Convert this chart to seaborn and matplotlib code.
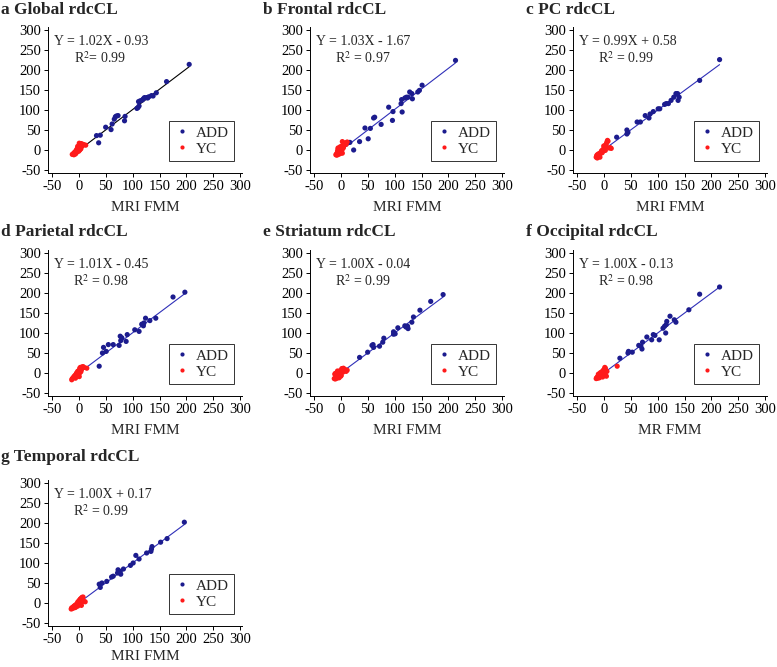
import matplotlib
matplotlib.use("Agg")
import matplotlib.pyplot as plt
import seaborn as sns
import pandas as pd

# panel titles, x labels and fit text
titles = ["a Global rdcCL", "b Frontal rdcCL", "c PC rdcCL", "d Parietal rdcCL",
          "e Striatum rdcCL", "f Occipital rdcCL", "g Temporal rdcCL"]
xlabels = ["MRI FMM", "MRI FMM", "MRI FMM", "MRI FMM", "MRI FMM", "MR FMM", "MRI FMM"]
slopes = [1.02, 1.03, 0.99, 1.01, 1.00, 1.00, 1.00]
intercepts = [-0.93, -1.67, 0.58, -0.45, -0.04, -0.13, 0.17]
eq_text = ["Y = 1.02X - 0.93", "Y = 1.03X - 1.67", "Y = 0.99X + 0.58", "Y = 1.01X - 0.45",
           "Y = 1.00X - 0.04", "Y = 1.00X - 0.13", "Y = 1.00X + 0.17"]
r2_text = ["R$^2$= 0.99", "R$^2$ = 0.97", "R$^2$ = 0.99", "R$^2$ = 0.98",
           "R$^2$ = 0.99", "R$^2$ = 0.98", "R$^2$ = 0.99"]
ticks = [-50, 0, 50, 100, 150, 200, 250, 300]

# a Global
a_add_x = [205, 163, 144, 135, 130, 126, 122, 118, 114, 111, 112, 108, 110, 73, 70, 68, 66, 86, 85, 62, 60, 50, 40, 33, 37, 120, 128, 138]
a_add_y = [214, 171, 143, 136, 133, 131, 131, 125, 123, 121, 110, 104, 106, 86, 85, 83, 77, 84, 73, 65, 51, 57, 37, 36, 18, 128, 130, 135]
a_yc_x = [-12, -10, -9, -8, -7, -6, -5, -5, -4, -3, -3, -2, -1, 0, 0, 1, 2, 2, 3, 4, 5, 6, 8, 10, 13, -6, -2, 1, 4]
a_yc_y = [-11, -9, -12, -6, -8, -4, -7, -2, 0, -5, 3, -1, 2, -3, 5, 8, 0, 12, 15, 6, 16, 10, 14, 13, 12, -10, 9, 17, 3]

# b Frontal
b_add_x = [213, 151, 146, 143, 132, 128, 125, 133, 122, 119, 113, 112, 114, 97, 96, 89, 75, 63, 61, 55, 45, 51, 35, 24, 17]
b_add_y = [224, 162, 149, 145, 141, 145, 132, 128, 132, 130, 126, 116, 95, 96, 74, 107, 64, 82, 80, 54, 55, 28, 21, 0, 19]
b_yc_x = [-9, -8, -7, -6, -6, -5, -4, -3, -3, -2, -1, -1, 0, 0, 1, 2, 2, 3, 4, 5, -5, -2, 1, 8, 12, 10, -4, 3]
b_yc_y = [-12, -10, -13, -8, -3, 2, -11, 5, -6, 0, 8, -9, 3, -4, 7, -1, 10, 21, 4, 6, 5, -7, 0, 18, 20, 14, -2, -8]

# c PC
c_add_x = [215, 178, 140, 138, 137, 134, 130, 125, 116, 120, 113, 104, 101, 92, 86, 84, 77, 68, 62, 43, 45, 43, 24]
c_add_y = [226, 174, 132, 124, 141, 141, 132, 124, 116, 116, 114, 103, 103, 96, 90, 80, 86, 70, 70, 50, 44, 40, 32]
c_yc_x = [-14, -13, -12, -11, -10, -9, -8, -7, -6, -5, -4, -3, -2, -1, 0, 1, 2, 3, 4, 5, 6, 7, 8, 10, 12, 14, -8, -12, 0, 3]
c_yc_y = [-18, -14, -12, -16, -10, -13, -9, -18, -8, -5, -2, -7, 0, -3, 3, 2, 6, 12, 8, 16, 20, 24, 22, 5, 6, 4, -15, -20, 10, -1]

# d Parietal
d_add_x = [197, 175, 143, 132, 124, 121, 118, 117, 112, 104, 90, 88, 78, 77, 75, 64, 55, 46, 51, 44, 38, 120, 80]
d_add_y = [202, 190, 137, 131, 137, 125, 121, 122, 104, 108, 96, 79, 81, 92, 69, 71, 71, 64, 54, 50, 17, 118, 88]
d_yc_x = [-13, -12, -10, -9, -8, -7, -6, -5, -4, -4, -3, -2, -1, 0, 0, 1, 2, 3, 4, 5, 6, 8, 10, 15, -6, -2, 1, 3]
d_yc_y = [-17, -14, -12, -9, -11, -6, -8, -3, -5, 0, -2, -7, 2, -4, 6, -1, 12, 14, 3, 8, 15, 16, 14, 12, -13, 4, -9, 10]

# e Striatum
e_add_x = [190, 167, 147, 135, 132, 124, 119, 125, 106, 98, 101, 98, 80, 78, 72, 60, 61, 58, 50, 35, 121]
e_add_y = [196, 179, 157, 140, 127, 117, 118, 111, 113, 103, 98, 97, 87, 77, 67, 71, 64, 69, 52, 39, 115]
e_yc_x = [-12, -11, -10, -9, -8, -8, -7, -6, -5, -4, -3, -2, -1, 0, 1, 2, 3, 4, 5, 6, 8, 10, 12, -6, -3, 0, 2, -10]
e_yc_y = [-14, -3, -15, -10, -12, -6, -13, -8, -4, 0, -9, 5, -2, 3, -6, 8, 10, 2, 12, 6, 9, 4, 7, 5, -12, -8, 11, -1]

# f Occipital
f_add_x = [215, 178, 158, 134, 131, 123, 117, 116, 113, 110, 115, 103, 92, 95, 89, 80, 72, 71, 69, 65, 53, 46, 45, 30]
f_add_y = [215, 197, 158, 127, 133, 142, 129, 121, 117, 112, 100, 83, 96, 94, 83, 90, 77, 60, 67, 69, 52, 54, 50, 37]
f_yc_x = [-14, -13, -12, -11, -10, -9, -8, -7, -6, -5, -4, -3, -2, -1, 0, 1, 2, 3, 4, 5, 6, -10, -6, -2, 2, 25, 3, -8]
f_yc_y = [-14, -12, -10, -13, -8, -11, -2, -6, -9, -4, 2, -7, 5, 0, 8, 3, 10, 12, 6, -8, 4, -3, 1, -10, 14, 17, -5, -12]

# g Temporal
g_add_x = [196, 164, 152, 136, 135, 134, 126, 112, 106, 101, 96, 83, 77, 73, 72, 78, 64, 61, 52, 43, 38, 40]
g_add_y = [202, 161, 152, 141, 135, 129, 125, 110, 119, 100, 94, 85, 79, 83, 75, 72, 67, 65, 54, 50, 47, 39]
g_yc_x = [-14, -13, -12, -10, -9, -8, -7, -6, -5, -4, -3, -2, -1, 0, 1, 2, 3, 4, 5, 6, 7, 8, 10, 12, -6, -2, 2, 5]
g_yc_y = [-15, -12, -14, -10, -8, -12, -6, -9, -4, -7, -2, 2, -5, 5, 0, 8, 10, 3, 12, 14, 6, 15, 4, 3, -11, -8, -3, -6]

add_x = [a_add_x, b_add_x, c_add_x, d_add_x, e_add_x, f_add_x, g_add_x]
add_y = [a_add_y, b_add_y, c_add_y, d_add_y, e_add_y, f_add_y, g_add_y]
yc_x = [a_yc_x, b_yc_x, c_yc_x, d_yc_x, e_yc_x, f_yc_x, g_yc_x]
yc_y = [a_yc_y, b_yc_y, c_yc_y, d_yc_y, e_yc_y, f_yc_y, g_yc_y]

sns.set_style("ticks")
plt.rcParams["font.family"] = ["Liberation Serif", "DejaVu Serif"]
plt.rcParams["mathtext.fontset"] = "stix"
plt.rcParams["axes.unicode_minus"] = False

W, H = 777, 667
fig = plt.figure(figsize=(W / 100, H / 100), dpi=100)

col_left = [48, 310, 573]
row_top = [27, 250, 480]
row_labelpad = [6, 6, 3]
title_x = [1, 263, 526]
title_y = [10, 232, 457]
ax_w, ax_h = 194, 146

add_color = "#1c1c8e"
yc_color = "#ff1a1a"

for i in range(7):
    r, c = divmod(i, 3)
    left, top = col_left[c], row_top[r]
    ax = fig.add_axes([left / W, 1 - (top + ax_h) / H, ax_w / W, ax_h / H])

    df = pd.DataFrame({
        "x": add_x[i] + yc_x[i],
        "y": add_y[i] + yc_y[i],
        "group": ["ADD"] * len(add_x[i]) + ["YC"] * len(yc_x[i]),
    })
    sns.scatterplot(data=df, x="x", y="y", hue="group",
                    palette={"ADD": add_color, "YC": yc_color},
                    s=14, linewidth=0, ax=ax, zorder=3)

    # fitted line from the reported coefficients
    x0, x1 = min(yc_x[i]), max(add_x[i])
    line_color = "black" if i == 0 else "#2f2fb8"
    ax.plot([x0, x1], [slopes[i] * x0 + intercepts[i], slopes[i] * x1 + intercepts[i]],
            color=line_color, lw=0.8, zorder=2)

    ax.set_xlim(-57, 303)
    ax.set_ylim(-57.5, 307.5)
    ax.set_xticks(ticks)
    ax.set_yticks(ticks)
    ax.tick_params(labelsize=10.5, length=3, width=0.7, pad=2, colors="black")
    for side in ["top", "right"]:
        ax.spines[side].set_visible(False)
    for side in ["left", "bottom"]:
        ax.spines[side].set_linewidth(0.7)
        ax.spines[side].set_color("black")
    ax.set_xlabel(xlabels[i], fontsize=11, labelpad=row_labelpad[r])
    ax.set_ylabel("")

    ax.text(0.03, 0.90, eq_text[i], transform=ax.transAxes, fontsize=10, va="center", ha="left")
    ax.text(0.27, 0.79, r2_text[i], transform=ax.transAxes, fontsize=10, va="center", ha="center")

    handles, labels = ax.get_legend_handles_labels()
    leg = ax.legend(handles, labels, loc="lower right", bbox_to_anchor=(1.0, 0.03),
                    fontsize=11, frameon=True, fancybox=False, handlelength=1.0,
                    handletextpad=0.4, borderpad=0.35, labelspacing=0.15, markerscale=0.8)
    leg.get_frame().set_edgecolor("black")
    leg.get_frame().set_linewidth(0.7)

    fig.text(title_x[c] / W, 1 - title_y[r] / H, titles[i], fontsize=12.5,
             fontweight="bold", va="center", ha="left")

fig.savefig("out.png", dpi=100)
